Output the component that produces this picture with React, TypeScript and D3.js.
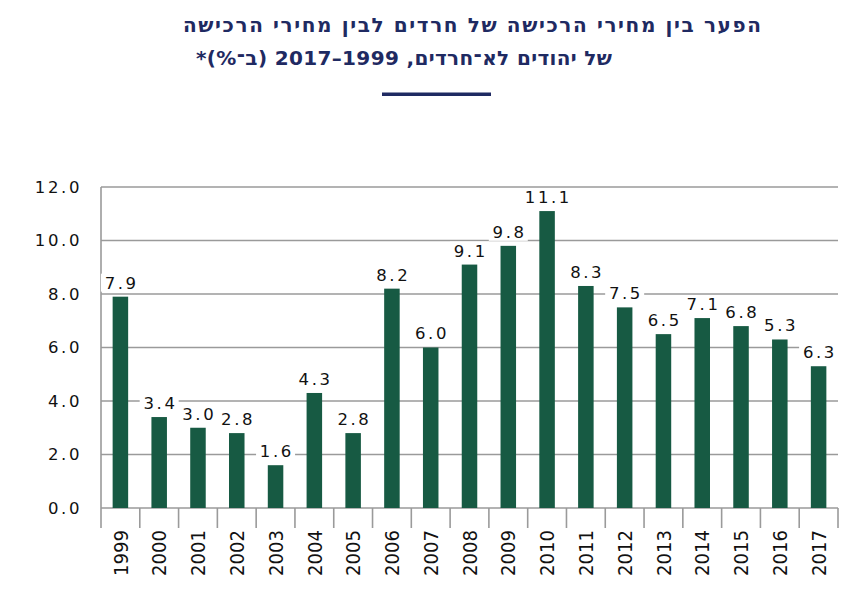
import React, { useEffect } from 'react';
import * as d3 from 'd3';

// Years on the x axis
const years = ['1999', '2000', '2001', '2002', '2003', '2004', '2005', '2006', '2007', '2008',
  '2009', '2010', '2011', '2012', '2013', '2014', '2015', '2016', '2017'];

// Bar heights (gap in %)
const gaps = [7.9, 3.4, 3.0, 2.8, 1.6, 4.3, 2.8, 8.2, 6.0, 9.1, 9.8, 11.1, 8.3, 7.5, 6.5, 7.1, 6.8, 6.3, 5.3];

// Labels as printed above the bars (the source prints the last two swapped)
const barLabels = ['7.9', '3.4', '3.0', '2.8', '1.6', '4.3', '2.8', '8.2', '6.0', '9.1', '9.8', '11.1',
  '8.3', '7.5', '6.5', '7.1', '6.8', '5.3', '6.3'];

const yTicks = [0, 2, 4, 6, 8, 10, 12];

const titleLines = [
  'הפער בין מחירי הרכישה של חרדים לבין מחירי הרכישה',
  'של יהודים לא־חרדים, 1999–2017 (ב־%)*',
];

const W = 867;
const H = 613;
const margin = { top: 187, right: 29, bottom: 105, left: 101 };

export default function App() {
  useEffect(() => {
    document.body.style.margin = '0';
  }, []);

  const x = d3
    .scaleBand<string>()
    .domain(years)
    .range([margin.left, W - margin.right])
    .paddingInner(0.6)
    .paddingOuter(0.3);

  const y = d3
    .scaleLinear()
    .domain([0, 12])
    .range([H - margin.bottom, margin.top]);

  const step = x.step();
  const x0 = margin.left;
  const x1 = W - margin.right;
  const yBase = y(0);
  const gridColor = '#9a9a9a';
  const navy = '#1f2a62';
  const barColor = '#175a43';
  const labelFont = '"DejaVu Sans", Verdana, sans-serif';

  return (
    <svg width={W} height={H} style={{ display: 'block', background: '#fff' }}>
      {/* Title */}
      <g fill={navy} fontFamily='"DejaVu Sans", sans-serif' fontWeight="bold" fontSize={20} textAnchor="middle">
        <text x={472} y={32} direction="rtl" textLength={578} lengthAdjust="spacing">{titleLines[0]}</text>
        <text x={404} y={65} direction="rtl" textLength={416} lengthAdjust="spacing">{titleLines[1]}</text>
      </g>
      <rect x={382} y={92.5} width={109} height={3.5} fill={navy} />

      {/* Grid lines */}
      {yTicks.map((t) => (
        <line key={t} x1={x0} x2={x1} y1={y(t)} y2={y(t)} stroke={gridColor} strokeWidth={1.6} />
      ))}

      {/* Y axis line and category ticks */}
      <line x1={x0} x2={x0} y1={y(12)} y2={yBase + 20} stroke={gridColor} strokeWidth={1.6} />
      {years.map((yr, i) => (
        <line key={yr} x1={x0 + step * (i + 1)} x2={x0 + step * (i + 1)} y1={yBase} y2={yBase + 20}
          stroke={gridColor} strokeWidth={1.6} />
      ))}

      {/* Y tick labels */}
      {yTicks.map((t) => (
        <text key={t} x={82} y={y(t)} dy="0.36em" textAnchor="end" fontFamily={labelFont} fontSize={16.5}
          letterSpacing={2.6} fill="#111">
          {d3.format('.1f')(t)}
        </text>
      ))}

      {/* Bars */}
      {years.map((yr, i) => (
        <rect key={yr} x={x(yr)} y={y(gaps[i])} width={x.bandwidth()} height={yBase - y(gaps[i])} fill={barColor} />
      ))}

      {/* Value labels with white backing */}
      {years.map((yr, i) => {
        const cx = (x(yr) as number) + x.bandwidth() / 2;
        const cy = y(gaps[i]) - 14;
        const tw = barLabels[i].length * 11 + 6;
        return (
          <g key={yr}>
            <rect x={cx - tw / 2} y={cy - 9} width={tw} height={18} fill="#fff" />
            <text x={cx + 1.3} y={cy} dy="0.36em" textAnchor="middle" fontFamily={labelFont} fontSize={16.5}
              letterSpacing={2.6} fill="#111">
              {barLabels[i]}
            </text>
          </g>
        );
      })}

      {/* Year labels */}
      {years.map((yr) => {
        const cx = (x(yr) as number) + x.bandwidth() / 2;
        return (
          <text key={yr} transform={`translate(${cx},${yBase + 22}) rotate(-90)`} dy="0.36em" textAnchor="end"
            fontFamily={labelFont} fontSize={20} textLength={46} lengthAdjust="spacingAndGlyphs" fill="#111">
            {yr}
          </text>
        );
      })}
    </svg>
  );
}
